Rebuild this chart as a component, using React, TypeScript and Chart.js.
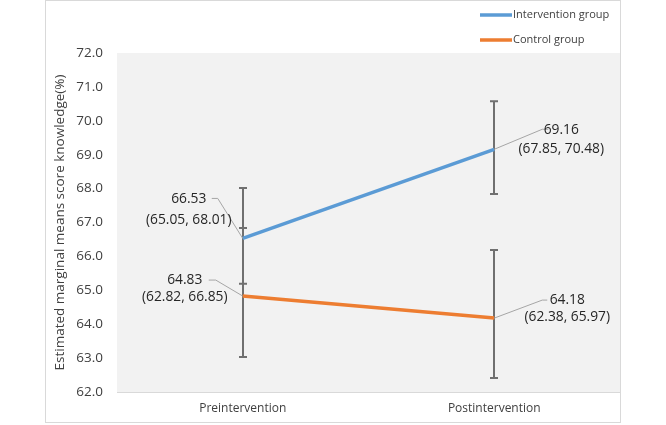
import React, { useEffect, useRef } from 'react';
import { Chart, registerables } from 'chart.js';

Chart.register(...registerables);

const categories = ['Preintervention', 'Postintervention'];
const seriesNames = ['Intervention group', 'Control group'];
const interventionMeans = [66.53, 69.16];
const controlMeans = [64.83, 64.18];
// error bar ends as drawn in the picture
const interventionLow = [65.19, 67.84];
const interventionHigh = [68.02, 70.58];
const controlLow = [63.03, 62.41];
const controlHigh = [66.84, 66.19];
// confidence intervals printed in the labels
const interventionCILow = [65.05, 67.85];
const interventionCIHigh = [68.01, 70.48];
const controlCILow = [62.82, 62.38];
const controlCIHigh = [66.85, 65.97];
const yMin = 62;
const yMax = 72;
const yStep = 1;

const FONT = '"Open Sans", sans-serif';
const BLUE = '#5b9bd5';
const ORANGE = '#ed7d31';
const TEXT = '#404040';

// label placement offsets (pixels, relative to the point)
const labelStyle = [
  [
    { cx: -54, y1: -39, y2: -18, leader: [[0, 0], [-25, -40], [-31, -40]] },
    { cx: 67, y1: -19, y2: 0, leader: [[0, 0], [48, -20], [54, -20]] },
  ],
  [
    { cx: -58, y1: -16, y2: 1, leader: [[0, 0], [-27, -16], [-34, -16]] },
    { cx: 73, y1: -18, y2: -1, leader: [[0, 0], [48, -18], [53, -18]] },
  ],
];

const decorPlugin = {
  id: 'decor',
  beforeDraw(chart: any) {
    const { ctx, chartArea } = chart;
    ctx.save();
    ctx.fillStyle = '#ffffff';
    ctx.fillRect(0, 0, chart.width, chart.height);
    ctx.fillStyle = '#f2f2f2';
    ctx.fillRect(chartArea.left, chartArea.top, chartArea.right - chartArea.left, chartArea.bottom - chartArea.top);
    ctx.strokeStyle = '#d9d9d9';
    ctx.lineWidth = 1;
    ctx.strokeRect(45.5, 0.5, chartArea.right - 45, 422);
    ctx.restore();
  },
  beforeDatasetsDraw(chart: any) {
    const { ctx } = chart;
    const xs = chart.scales.x;
    const ys = chart.scales.y;
    const lows = [interventionLow, controlLow];
    const highs = [interventionHigh, controlHigh];
    ctx.save();
    ctx.strokeStyle = '#707070';
    ctx.lineWidth = 2;
    for (let s = 0; s < 2; s++) {
      for (let i = 0; i < categories.length; i++) {
        const x = Math.round(xs.getPixelForValue(i));
        const yl = ys.getPixelForValue(lows[s][i]);
        const yh = ys.getPixelForValue(highs[s][i]);
        ctx.beginPath();
        ctx.moveTo(x, yl);
        ctx.lineTo(x, yh);
        ctx.moveTo(x - 4, yl);
        ctx.lineTo(x + 4, yl);
        ctx.moveTo(x - 4, yh);
        ctx.lineTo(x + 4, yh);
        ctx.stroke();
      }
    }
    ctx.restore();
  },
  afterDatasetsDraw(chart: any) {
    const { ctx } = chart;
    const xs = chart.scales.x;
    const ys = chart.scales.y;
    const means = [interventionMeans, controlMeans];
    const ciLow = [interventionCILow, controlCILow];
    const ciHigh = [interventionCIHigh, controlCIHigh];
    ctx.save();
    for (let s = 0; s < 2; s++) {
      for (let i = 0; i < categories.length; i++) {
        const px = xs.getPixelForValue(i);
        const py = ys.getPixelForValue(means[s][i]);
        const st = labelStyle[s][i];
        ctx.strokeStyle = '#a6a6a6';
        ctx.lineWidth = 1;
        ctx.beginPath();
        st.leader.forEach((p: number[], k: number) => {
          if (k === 0) ctx.moveTo(px + p[0], py + p[1]);
          else ctx.lineTo(px + p[0], py + p[1]);
        });
        ctx.stroke();
        ctx.fillStyle = '#262626';
        ctx.font = `13.8px ${FONT}`;
        ctx.textAlign = 'center';
        ctx.textBaseline = 'middle';
        ctx.fillText(means[s][i].toFixed(2), px + st.cx, py + st.y1);
        ctx.fillText(`(${ciLow[s][i].toFixed(2)}, ${ciHigh[s][i].toFixed(2)})`, px + st.cx, py + st.y2);
      }
    }
    ctx.restore();
  },
  afterDraw(chart: any) {
    const { ctx, chartArea } = chart;
    ctx.save();
    // plot area bottom border
    ctx.strokeStyle = '#d9d9d9';
    ctx.lineWidth = 1;
    ctx.beginPath();
    ctx.moveTo(chartArea.left, Math.round(chartArea.bottom) + 0.5);
    ctx.lineTo(chartArea.right, Math.round(chartArea.bottom) + 0.5);
    ctx.stroke();
    // legend
    const colors = [BLUE, ORANGE];
    const ly = [15, 40];
    for (let s = 0; s < 2; s++) {
      ctx.strokeStyle = colors[s];
      ctx.lineWidth = 3.5;
      ctx.beginPath();
      ctx.moveTo(480, ly[s]);
      ctx.lineTo(512, ly[s]);
      ctx.stroke();
      ctx.fillStyle = TEXT;
      ctx.font = `11px ${FONT}`;
      ctx.textAlign = 'left';
      ctx.textBaseline = 'middle';
      ctx.fillText(seriesNames[s], 513, ly[s]);
    }
    ctx.restore();
  },
};

export default function App() {
  const ref = useRef<HTMLCanvasElement | null>(null);
  useEffect(() => {
    if (!ref.current) return;
    const chart = new Chart(ref.current, {
      type: 'line',
      data: {
        labels: categories,
        datasets: [
          { label: seriesNames[0], data: interventionMeans, borderColor: BLUE, backgroundColor: BLUE, borderWidth: 3.5, pointRadius: 0, tension: 0 },
          { label: seriesNames[1], data: controlMeans, borderColor: ORANGE, backgroundColor: ORANGE, borderWidth: 3.5, pointRadius: 0, tension: 0 },
        ],
      },
      options: {
        animation: false,
        responsive: false,
        devicePixelRatio: 1,
        layout: { padding: { left: 52, right: 46, top: 53, bottom: 0 } },
        plugins: { legend: { display: false }, tooltip: { enabled: false } },
        scales: {
          x: {
            type: 'category',
            offset: true,
            grid: { display: false, drawTicks: false },
            border: { display: false },
            ticks: { font: { family: FONT, size: 12 }, color: TEXT, padding: 9 },
            afterFit: (s: any) => { s.height = 33; },
          },
          y: {
            min: yMin,
            max: yMax,
            grid: { display: false, drawTicks: false },
            border: { display: false },
            ticks: {
              stepSize: yStep,
              padding: 14,
              font: { family: FONT, size: 13.5 },
              color: TEXT,
              callback: (v: any) => Number(v).toFixed(1),
            },
            title: {
              display: true,
              text: 'Estimated marginal means score knowledge(%)',
              font: { family: FONT, size: 13.5 },
              color: TEXT,
              padding: { top: 0, bottom: 0 },
            },
            afterFit: (s: any) => { s.width = 65; },
          },
        },
      },
      plugins: [decorPlugin],
    } as any);
    return () => chart.destroy();
  }, []);
  return (
    <div style={{ position: 'absolute', left: 0, top: 0, width: 666, height: 425 }}>
      <canvas ref={ref} width={666} height={425} style={{ width: 666, height: 425 }} />
    </div>
  );
}
